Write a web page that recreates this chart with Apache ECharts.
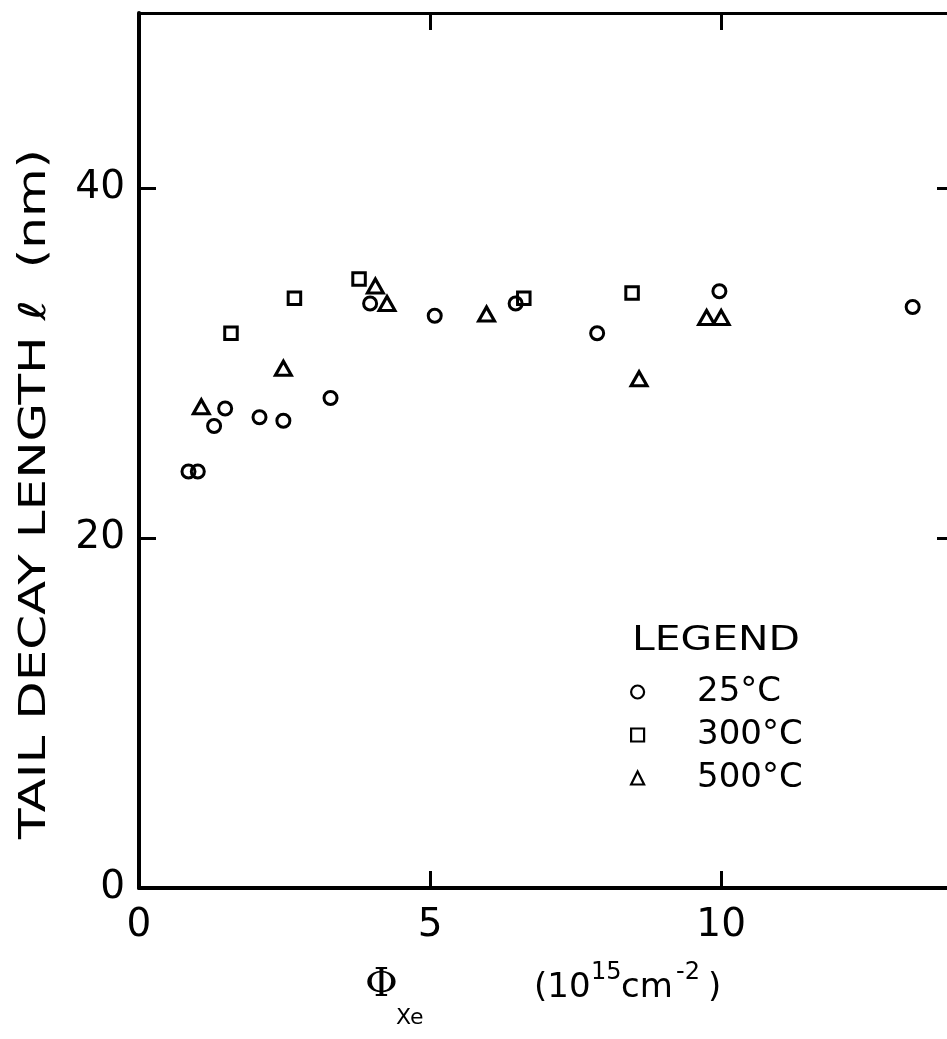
<!DOCTYPE html>
<html>
<head>
<meta charset="utf-8">
<script src="https://cdn.jsdelivr.net/npm/echarts@6/dist/echarts.min.js"></script>
<style>
  html, body { margin: 0; padding: 0; background: #fff; overflow: hidden; width: 947px; height: 1039px; }
  #chart { width: 960px; height: 1039px; }
</style>
</head>
<body>
<div id="chart"></div>
<script>
// Xe fluence (10^15 cm^-2) vs. tail decay length (nm)
const seriesNames = ['25°C', '300°C', '500°C'];
const fluence25 = [0.85, 1.01, 1.29, 1.48, 2.07, 2.48, 3.29, 3.97, 5.08, 6.47, 7.87, 9.97, 13.29];
const length25  = [23.8, 23.8, 26.4, 27.4, 26.9, 26.7, 28.0, 33.4, 32.7, 33.4, 31.7, 34.1, 33.2];
const fluence300 = [1.58, 2.67, 3.78, 6.61, 8.47];
const length300  = [31.7, 33.7, 34.8, 33.7, 34.0];
const fluence500 = [1.07, 2.48, 4.06, 4.26, 5.97, 8.59, 9.75, 10.0];
const length500  = [27.5, 29.7, 34.4, 33.4, 32.8, 29.1, 32.6, 32.6];
const xTickLabels = [0, 5, 10];
const yTickLabels = [0, 20, 40];

const FONT = 'DejaVu Sans';
const INK = '#000';

function pairs(xs, ys) { return xs.map((x, i) => [x, ys[i]]); }

const hollow = { color: 'rgba(0,0,0,0)', borderColor: INK, borderWidth: 3, opacity: 1 };
const legendHollow = { color: 'rgba(0,0,0,0)', borderColor: INK, borderWidth: 2.2, opacity: 1 };

function axisCommon(lineWidth) {
  return {
    type: 'value',
    axisLine: { show: true, onZero: false, lineStyle: { color: INK, width: lineWidth } },
    axisTick: { show: true, inside: true, length: 17, lineStyle: { color: INK, width: 3 } },
    splitLine: { show: false },
    minorTick: { show: false }
  };
}

const chart = echarts.init(document.getElementById('chart'), null, { renderer: 'canvas' });

chart.setOption({
  backgroundColor: '#fff',
  animation: false,
  grid: { left: 139, top: 13, width: 815, height: 875, containLabel: false },
  xAxis: [
    Object.assign(axisCommon(4), {
      position: 'bottom', min: 0, max: 14, interval: 5,
      axisLabel: {
        show: true, margin: 18, fontSize: 39, fontFamily: FONT, color: INK,
        showMaxLabel: false,
        formatter: v => (xTickLabels.indexOf(v) >= 0 ? String(v) : '')
      }
    }),
    Object.assign(axisCommon(3), {
      position: 'top', min: 0, max: 14, interval: 5, axisLabel: { show: false }
    })
  ],
  yAxis: [
    Object.assign(axisCommon(4), {
      position: 'left', min: 0, max: 50, interval: 20,
      axisLabel: {
        show: true, margin: 14, fontSize: 39, fontFamily: FONT, color: INK,
        showMaxLabel: false,
        formatter: v => (yTickLabels.indexOf(v) >= 0 ? String(v) : '')
      }
    }),
    Object.assign(axisCommon(3), {
      position: 'right', min: 0, max: 50, interval: 20, axisLabel: { show: false }
    })
  ],
  legend: {
    orient: 'vertical',
    left: 625, top: 670,
    itemWidth: 13, itemHeight: 13, itemGap: 9,
    selectedMode: false,
    textStyle: { fontSize: 34, fontFamily: FONT, color: INK, padding: [0, 0, 0, 48] },
    data: [
      { name: seriesNames[0], icon: 'circle', itemStyle: legendHollow },
      { name: seriesNames[1], icon: 'rect', itemStyle: legendHollow },
      { name: seriesNames[2], icon: 'triangle', itemStyle: legendHollow }
    ]
  },
  graphic: [
    {
      type: 'text', x: 632, y: 641, scaleX: 1.2,
      style: { text: 'LEGEND', font: '34px "DejaVu Sans"', fill: INK, align: 'left', verticalAlign: 'middle' }
    },
    {
      type: 'text', x: 35, y: 494, rotation: Math.PI / 2, scaleX: 1.35,
      style: { text: 'TAIL DECAY LENGTH ℓ  (nm)', font: '37px "DejaVu Sans"', fill: INK, align: 'center', verticalAlign: 'middle' }
    },
    { type: 'text', x: 365, y: 986, style: { text: 'Φ', font: '40px "DejaVu Serif"', fill: INK, align: 'left', verticalAlign: 'middle' } },
    { type: 'text', x: 396, y: 1018, style: { text: 'Xe', font: '22px "DejaVu Sans"', fill: INK, align: 'left', verticalAlign: 'middle' } },
    { type: 'text', x: 534, y: 988, style: { text: '(10', font: '34px "DejaVu Sans"', fill: INK, align: 'left', verticalAlign: 'middle' } },
    { type: 'text', x: 591, y: 973, style: { text: '15', font: '24px "DejaVu Sans"', fill: INK, align: 'left', verticalAlign: 'middle' } },
    { type: 'text', x: 621, y: 988, style: { text: 'cm', font: '34px "DejaVu Sans"', fill: INK, align: 'left', verticalAlign: 'middle' } },
    { type: 'text', x: 676, y: 973, style: { text: '-2', font: '24px "DejaVu Sans"', fill: INK, align: 'left', verticalAlign: 'middle' } },
    { type: 'text', x: 708, y: 988, style: { text: ')', font: '34px "DejaVu Sans"', fill: INK, align: 'left', verticalAlign: 'middle' } }
  ],
  series: [
    {
      name: seriesNames[0], type: 'scatter', xAxisIndex: 0, yAxisIndex: 0,
      symbol: 'circle', symbolSize: 13, itemStyle: hollow,
      emphasis: { disabled: true }, data: pairs(fluence25, length25)
    },
    {
      name: seriesNames[1], type: 'scatter', xAxisIndex: 0, yAxisIndex: 0,
      symbol: 'rect', symbolSize: 12.5, itemStyle: hollow,
      emphasis: { disabled: true }, data: pairs(fluence300, length300)
    },
    {
      name: seriesNames[2], type: 'scatter', xAxisIndex: 0, yAxisIndex: 0,
      symbol: 'triangle', symbolSize: [16, 14], itemStyle: hollow,
      emphasis: { disabled: true }, data: pairs(fluence500, length500)
    }
  ]
});
</script>
</body>
</html>
